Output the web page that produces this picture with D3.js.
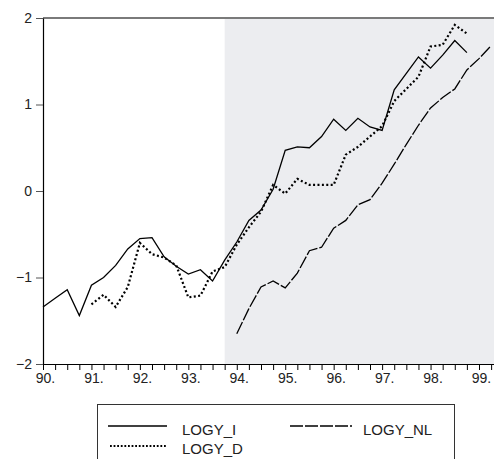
<!DOCTYPE html>
<html>
<head>
<meta charset="utf-8">
<script src="https://cdn.jsdelivr.net/npm/d3@7"></script>
<style>
  html, body { margin: 0; padding: 0; background: #fff; }
  svg { display: block; font-family: "Liberation Sans", Arial, sans-serif; }
</style>
</head>
<body>
<svg id="chart" width="494" height="459"></svg>
<script>
// Quarterly series (first value = first quarter of the start year)
const yearLabels = ["90.", "91.", "92.", "93.", "94.", "95.", "96.", "97.", "98.", "99."];
const yTicks = [-2, -1, 0, 1, 2];

const logyIStart = 1990;
const logyI = [
  -1.34, -1.24, -1.14, -1.44,
  -1.09, -1.00, -0.86, -0.67,
  -0.55, -0.54, -0.76, -0.87,
  -0.96, -0.91, -1.04, -0.80,
  -0.59, -0.34, -0.22, 0.02,
  0.47, 0.51, 0.50, 0.63,
  0.83, 0.70, 0.84, 0.74,
  0.70, 1.17, 1.36, 1.55,
  1.42, 1.57, 1.74, 1.60
];

const logyDStart = 1991;
const logyD = [
  -1.31, -1.20, -1.34, -1.11,
  -0.60, -0.73, -0.77, -0.86,
  -1.23, -1.21, -0.93, -0.88,
  -0.62, -0.42, -0.24, 0.07,
  -0.03, 0.14, 0.07, 0.07,
  0.07, 0.42, 0.51, 0.63,
  0.75, 1.04, 1.18, 1.32,
  1.67, 1.69, 1.92, 1.82
];

const logyNLStart = 1994;
const logyNL = [
  -1.65, -1.36, -1.11, -1.04,
  -1.12, -0.95, -0.69, -0.65,
  -0.43, -0.34, -0.16, -0.10,
  0.09, 0.31, 0.54, 0.76,
  0.96, 1.08, 1.18, 1.40,
  1.53, 1.68
];

const shadeFrom = 1993.75; // shaded forecast period

(function () {
  const svg = d3.select("#chart");
  const mLeft = 43, mTop = 18, mBottom = 364, mRight = 494;

  const x = d3.scaleLinear().domain([1990, 1999]).range([mLeft, 479]);
  const y = d3.scaleLinear().domain([-2, 2]).range([mBottom, mTop]);
  const xEnd = x.invert(mRight);

  const toPoints = (vals, start) => vals.map((v, i) => ({ t: start + i / 4, v }));

  // shaded region
  svg.append("rect")
    .attr("x", x(shadeFrom)).attr("y", y(2))
    .attr("width", x(xEnd) - x(shadeFrom))
    .attr("height", y(-2) - y(2))
    .attr("fill", "#ecedf0");

  // top frame line
  svg.append("line")
    .attr("x1", mLeft).attr("x2", mRight)
    .attr("y1", y(2)).attr("y2", y(2))
    .attr("stroke", "#7a7a7a").attr("stroke-width", 2);

  const line = d3.line().x(d => x(d.t)).y(d => y(d.v));

  const series = [
    { data: toPoints(logyI, logyIStart), dash: null, width: 1.3 },
    { data: toPoints(logyD, logyDStart), dash: "2,2.4", width: 2.2 },
    { data: toPoints(logyNL, logyNLStart), dash: "13,2", width: 1.3 }
  ];

  series.forEach(s => {
    svg.append("path")
      .datum(s.data)
      .attr("d", line)
      .attr("fill", "none")
      .attr("stroke", "#000")
      .attr("stroke-width", s.width)
      .attr("stroke-dasharray", s.dash)
      .attr("stroke-linejoin", "miter");
  });

  // x axis with quarterly ticks
  const quarters = d3.range(0, 38).map(i => 1990 + i / 4).filter(t => t <= xEnd);
  const xAxis = d3.axisBottom(x)
    .tickValues(quarters)
    .tickSize(6)
    .tickSizeOuter(0)
    .tickPadding(3)
    .tickFormat(t => Number.isInteger(t) ? yearLabels[t - 1990] : "");
  const gx = svg.append("g").attr("transform", `translate(0,${mBottom})`).call(xAxis);
  gx.select(".domain").attr("stroke", "#000").attr("stroke-width", 1.2)
    .attr("d", `M${mLeft},0.5H${mRight}`);
  gx.selectAll(".tick line").attr("stroke", "#000");
  gx.selectAll(".tick text").attr("font-size", 14).attr("fill", "#222")
    .attr("font-family", "Liberation Sans, Arial, sans-serif").attr("dx", 2);

  // y axis
  const yAxis = d3.axisLeft(y)
    .tickValues(yTicks)
    .tickSize(7)
    .tickSizeOuter(0)
    .tickPadding(4)
    .tickFormat(d => d < 0 ? "\u2212" + Math.abs(d) : String(d));
  const gy = svg.append("g").attr("transform", `translate(${mLeft},0)`).call(yAxis);
  gy.select(".domain").attr("stroke", "#000").attr("stroke-width", 1.2);
  gy.selectAll(".tick line").attr("stroke", "#555");
  gy.selectAll(".tick text").attr("font-size", 14).attr("fill", "#222")
    .attr("font-family", "Liberation Sans, Arial, sans-serif");

  // legend
  const legend = svg.append("g");
  legend.append("rect")
    .attr("x", 97.5).attr("y", 404.5).attr("width", 357).attr("height", 70)
    .attr("fill", "#fff").attr("stroke", "#333").attr("stroke-width", 1);

  const legendItems = [
    { label: "LOGY_I", x1: 108, x2: 167, tx: 182, ly: 426, ty: 435, dash: null, width: 1.3 },
    { label: "LOGY_D", x1: 110, x2: 167, tx: 182, ly: 446, ty: 454, dash: "1.8,1.8", width: 1.8 },
    { label: "LOGY_NL", x1: 290, x2: 352, tx: 363, ly: 426, ty: 435, dash: "13,2", width: 1.3 }
  ];
  legendItems.forEach(it => {
    legend.append("line")
      .attr("x1", it.x1).attr("x2", it.x2).attr("y1", it.ly).attr("y2", it.ly)
      .attr("stroke", "#000").attr("stroke-width", it.width)
      .attr("stroke-dasharray", it.dash);
    legend.append("text")
      .attr("x", it.tx).attr("y", it.ty)
      .attr("font-size", 15).attr("fill", "#222")
      .text(it.label);
  });
})();
</script>
</body>
</html>
